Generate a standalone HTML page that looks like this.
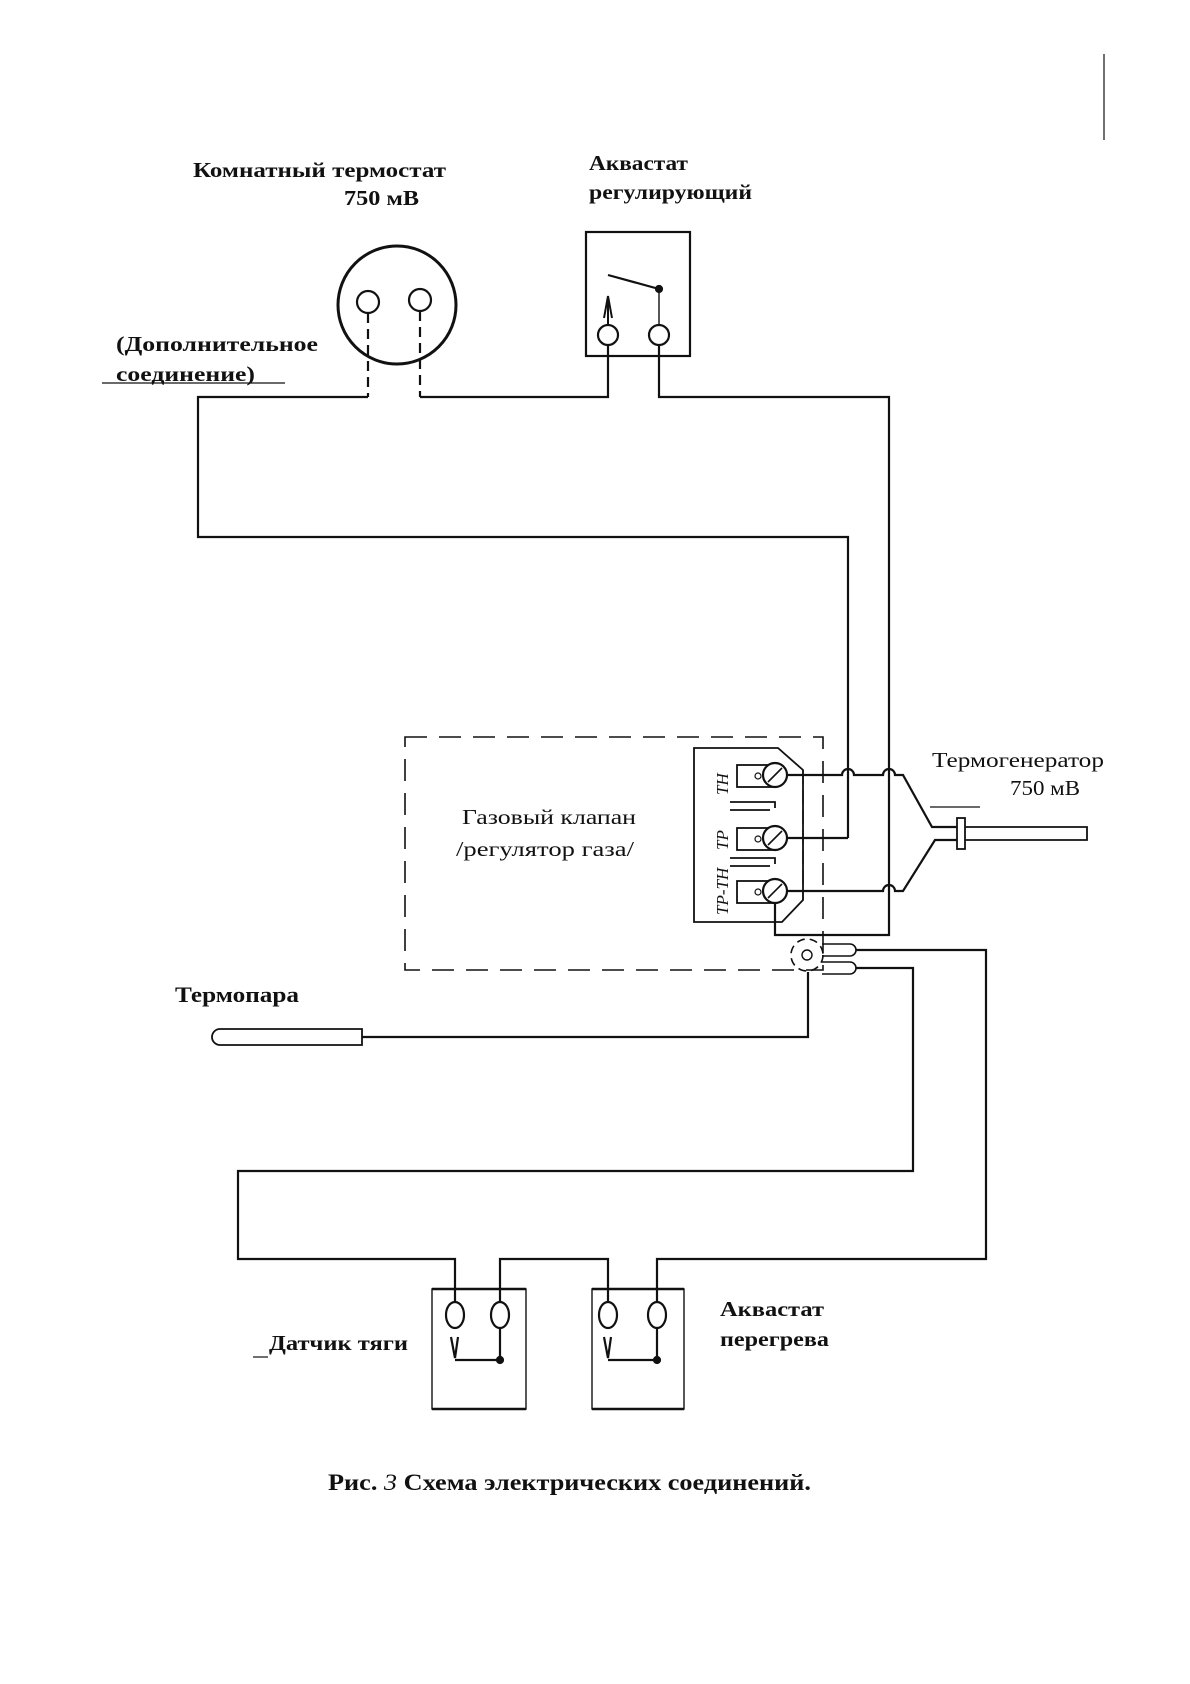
<!DOCTYPE html>
<html><head><meta charset="utf-8"><style>
html,body{margin:0;padding:0;background:#fff}
svg{display:block}
text{font-family:"Liberation Serif","Noto Serif CJK SC",serif;fill:#111}
.b{font-weight:bold}
</style></head><body>
<svg width="1190" height="1684" viewBox="0 0 1190 1684" xmlns="http://www.w3.org/2000/svg">
<g fill="none" stroke="#111" stroke-width="2.2">
<line x1="1104" y1="54" x2="1104" y2="140" stroke-width="1.2"/>
<circle cx="397" cy="305" r="59" stroke-width="3"/>
<circle cx="368" cy="302" r="11"/>
<circle cx="420" cy="300" r="11"/>
<line x1="368" y1="313" x2="368" y2="397" stroke-dasharray="10,6"/>
<line x1="420" y1="311" x2="420" y2="397" stroke-dasharray="10,6"/>
<rect x="586" y="232" width="104" height="124"/>
<circle cx="608" cy="335" r="10"/>
<circle cx="659" cy="335" r="10"/>
<line x1="608" y1="275" x2="659" y2="289"/>
<circle cx="659" cy="289" r="3" fill="#111"/>
<line x1="659" y1="289" x2="659" y2="325" stroke-width="1.4"/>
<path d="M608 325 L608 298 M604 318 L608 296 L612 318" stroke-width="2"/>
<path d="M368 397 H198 V537 H848 V838"/>
<path d="M420 397 H608 V345"/>
<path d="M659 345 V397 H889 V935 H775 V902"/>
<rect x="405" y="737" width="418" height="233" stroke-dasharray="22,12" stroke-width="1.6"/>
<path d="M694 748 H778 L803 770 V900 L782 922 H694 Z" stroke-width="1.8"/>
<line x1="803" y1="770" x2="803" y2="900" stroke-dasharray="14,6" stroke-width="1.4"/>
<g stroke-width="1.8">
<rect x="737" y="765" width="36" height="22"/>
<rect x="737" y="828" width="36" height="22"/>
<rect x="737" y="881" width="36" height="22"/>
<path d="M730 802 H775 V808 M730 810 H770"/>
<path d="M730 858 H775 V864 M730 866 H770"/>
</g>
<circle cx="758" cy="776" r="3" stroke-width="1.2"/>
<circle cx="758" cy="839" r="3" stroke-width="1.2"/>
<circle cx="758" cy="892" r="3" stroke-width="1.2"/>
<circle cx="775" cy="775" r="12" fill="#fff"/>
<circle cx="775" cy="838" r="12" fill="#fff"/>
<circle cx="775" cy="891" r="12" fill="#fff"/>
<line x1="768" y1="782" x2="782" y2="768" stroke-width="1.6"/>
<line x1="768" y1="845" x2="782" y2="831" stroke-width="1.6"/>
<line x1="768" y1="898" x2="782" y2="884" stroke-width="1.6"/>
<path d="M787 775 H842 A6 6 0 0 1 854 775 H883 A6 6 0 0 1 895 775 H903 L932 827 H961"/>
<path d="M787 838 H848"/>
<path d="M787 891 H883 A6 6 0 0 1 895 891 H903 L935 840 H961"/>
<path d="M961 827 H1087 V840 H961" stroke-width="1.8"/>
<rect x="957" y="818" width="8" height="31" fill="#fff" stroke-width="1.8"/>
<line x1="930" y1="807" x2="980" y2="807" stroke-width="1.2"/>
<circle cx="807" cy="955" r="16" stroke-dasharray="8,5" stroke-width="1.6"/>
<circle cx="807" cy="955" r="5" stroke-width="1.4"/>
<path d="M822 944 H850 A6 6 0 0 1 850 956 H822" stroke-width="1.6"/>
<path d="M822 962 H850 A6 6 0 0 1 850 974 H822" stroke-width="1.6"/>
<path d="M856 950 H986 V1259 H657 V1301"/>
<path d="M856 968 H913 V1171 H238 V1259 H455 V1301"/>
<path d="M500 1301 V1259 H608 V1301"/>
<path d="M362 1029 H220 A8 8 0 0 0 220 1045 H362 Z" stroke-width="1.8"/>
<path d="M362 1037 H808 V972"/>
<rect x="432" y="1289" width="94" height="120" stroke-width="1.4"/>
<line x1="432" y1="1289" x2="526" y2="1289" stroke-width="2.4"/>
<line x1="432" y1="1409" x2="526" y2="1409" stroke-width="2.4"/>
<rect x="592" y="1289" width="92" height="120" stroke-width="1.4"/>
<line x1="592" y1="1289" x2="684" y2="1289" stroke-width="2.4"/>
<line x1="592" y1="1409" x2="684" y2="1409" stroke-width="2.4"/>
<ellipse cx="455" cy="1315" rx="9" ry="13"/>
<ellipse cx="500" cy="1315" rx="9" ry="13"/>
<ellipse cx="608" cy="1315" rx="9" ry="13"/>
<ellipse cx="657" cy="1315" rx="9" ry="13"/>
<path d="M451 1337 L455 1358 L458 1337 M455 1360 H500 V1328"/>
<path d="M604 1337 L608 1358 L611 1337 M608 1360 H657 V1328"/>
<circle cx="500" cy="1360" r="3" fill="#111"/>
<circle cx="657" cy="1360" r="3" fill="#111"/>
<line x1="102" y1="383" x2="285" y2="383" stroke-width="1.2"/>
<line x1="253" y1="1357" x2="268" y2="1357" stroke-width="1.2"/>
</g>
<g fill="#111">
<text transform="translate(728,795) rotate(-90)" font-size="17" font-style="italic">ТН</text>
<text transform="translate(728,850) rotate(-90)" font-size="17" font-style="italic">ТР</text>
<text transform="translate(728,915) rotate(-90)" font-size="17" font-style="italic">ТР-ТН</text>
</g>
<text x="193" y="177" font-size="21" class="b" textLength="253" lengthAdjust="spacingAndGlyphs">Комнатный термостат</text>
<text x="344" y="205" font-size="21" class="b" textLength="75" lengthAdjust="spacingAndGlyphs">750 мВ</text>
<text x="589" y="170" font-size="21" class="b" textLength="99" lengthAdjust="spacingAndGlyphs">Аквастат</text>
<text x="589" y="199" font-size="21" class="b" textLength="163" lengthAdjust="spacingAndGlyphs">регулирующий</text>
<text x="116" y="351" font-size="21" class="b" textLength="202" lengthAdjust="spacingAndGlyphs">(Дополнительное</text>
<text x="116" y="381" font-size="21" class="b" textLength="139" lengthAdjust="spacingAndGlyphs">соединение)</text>
<text x="462" y="824" font-size="21" textLength="174" lengthAdjust="spacingAndGlyphs">Газовый клапан</text>
<text x="456" y="856" font-size="21" textLength="178" lengthAdjust="spacingAndGlyphs">/регулятор газа/</text>
<text x="932" y="767" font-size="21" textLength="172" lengthAdjust="spacingAndGlyphs">Термогенератор</text>
<text x="1010" y="795" font-size="21" textLength="70" lengthAdjust="spacingAndGlyphs">750 мВ</text>
<text x="175" y="1002" font-size="22" class="b" textLength="124" lengthAdjust="spacingAndGlyphs">Термопара</text>
<text x="269" y="1350" font-size="21" class="b" textLength="139" lengthAdjust="spacingAndGlyphs">Датчик тяги</text>
<text x="720" y="1316" font-size="21" class="b" textLength="104" lengthAdjust="spacingAndGlyphs">Аквастат</text>
<text x="720" y="1346" font-size="21" class="b" textLength="109" lengthAdjust="spacingAndGlyphs">перегрева</text>
<text x="328" y="1490" font-size="23" class="b" textLength="483" lengthAdjust="spacingAndGlyphs">Рис. <tspan font-style="italic" font-weight="normal">3</tspan>   Схема  электрических  соединений.</text>
</svg>
</body></html>
